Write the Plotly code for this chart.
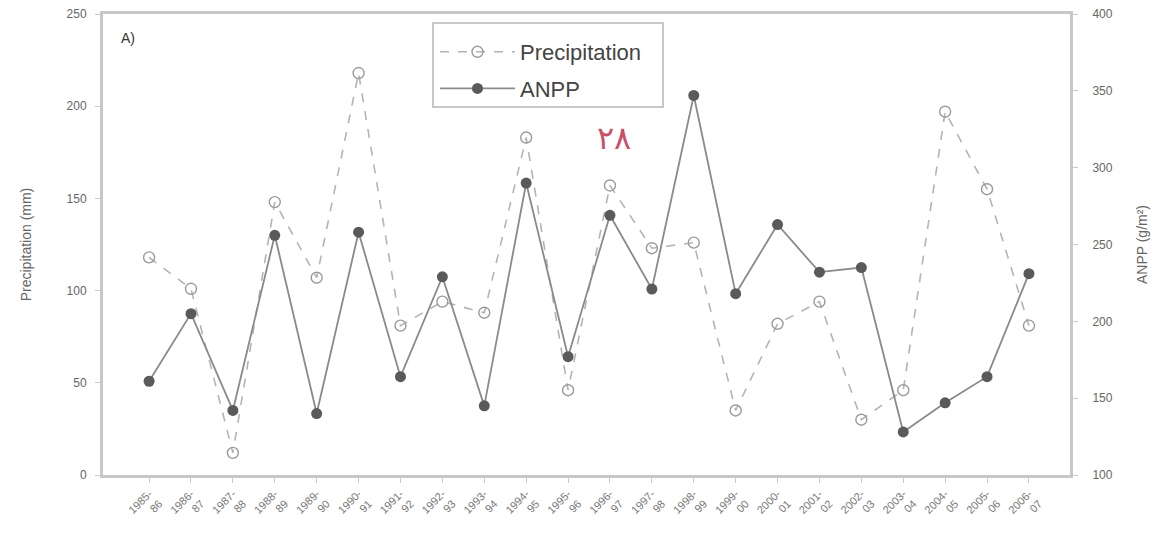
import plotly.graph_objects as go

seasons = ["1985-<br>86", "1986-<br>87", "1987-<br>88", "1988-<br>89", "1989-<br>90", "1990-<br>91",
           "1991-<br>92", "1992-<br>93", "1993-<br>94", "1994-<br>95", "1995-<br>96", "1996-<br>97",
           "1997-<br>98", "1998-<br>99", "1999-<br>00", "2000-<br>01", "2001-<br>02", "2002-<br>03",
           "2003-<br>04", "2004-<br>05", "2005-<br>06", "2006-<br>07"]
precipitation = [118, 101, 12, 148, 107, 218, 81, 94, 88, 183, 46, 157,
                 123, 126, 35, 82, 94, 30, 46, 197, 155, 81]
anpp = [161, 205, 142, 256, 140, 258, 164, 229, 145, 290, 177, 269,
        221, 347, 218, 263, 232, 235, 128, 147, 164, 231]
left_ticks = [0, 50, 100, 150, 200, 250]
right_ticks = [100, 150, 200, 250, 300, 350, 400]

xs = list(range(len(seasons)))
axis_grey = "#c8c8c8"
text_grey = "#555555"

# the page body has an 8px margin, so the layout is offset to compensate
PL, PT, PW, PH = 95, 6, 967, 461


def px(xp):  # screen x pixel -> paper
    return (xp - 101) / PW


def py(yp):  # screen y pixel -> paper
    return (475 - yp) / PH


fig = go.Figure()
fig.add_trace(go.Scatter(
    x=xs, y=precipitation, name="Precipitation", mode="lines+markers", legendgroup="p",
    line=dict(color="#b4b4b4", width=1.6, dash="dash"),
    marker=dict(symbol="circle-open", size=11, color="#9a9a9a", line=dict(width=1.4)),
))
fig.add_trace(go.Scatter(
    x=xs, y=anpp, name="ANPP", mode="lines+markers", yaxis="y2", legendgroup="a",
    line=dict(color="#8a8a8a", width=1.8),
    marker=dict(symbol="circle", size=11, color="#5a5a5a", line=dict(color="#5a5a5a", width=0)),
))

fig.update_layout(
    width=1161, height=538,
    margin=dict(l=PL, r=1161 - PL - PW, t=PT, b=538 - PT - PH, autoexpand=False),
    paper_bgcolor="white", plot_bgcolor="white",
    font=dict(family="Liberation Sans, Arial, sans-serif", color=text_grey, size=11),
    showlegend=True,
    legend=dict(x=px(433), y=py(31), xanchor="left", yanchor="top",
                borderwidth=0, bgcolor="rgba(0,0,0,0)",
                font=dict(size=22, color="#444444"), itemwidth=75,
                tracegroupgap=5, traceorder="grouped"),
    xaxis=dict(range=[-1.1, 21.98], tickmode="array", tickvals=xs, ticktext=seasons,
               tickangle=-45, showgrid=False, zeroline=False, automargin=False,
               showline=True, linecolor=axis_grey, linewidth=3, mirror=True,
               ticks="outside", ticklen=5, tickcolor=axis_grey, ticklabeloverflow="allow",
               tickfont=dict(size=11, color="#777777")),
    yaxis=dict(range=[0, 250], tickvals=left_ticks, showgrid=False, zeroline=False, automargin=False,
               showline=True, linecolor=axis_grey, linewidth=3, mirror=False,
               ticks="outside", ticklen=5, tickcolor=axis_grey, ticklabelstandoff=6,
               ticklabeloverflow="allow",
               title=dict(text="Precipitation (mm)", font=dict(size=14, color="#666666"), standoff=32),
               tickfont=dict(size=12, color="#666666")),
    yaxis2=dict(range=[100, 400], tickvals=right_ticks, overlaying="y", side="right",
                showgrid=False, zeroline=False, showline=True, linecolor=axis_grey, linewidth=3,
                ticks="outside", ticklen=5, tickcolor=axis_grey, ticklabelstandoff=12, automargin=False,
                ticklabeloverflow="allow",
                title=dict(text="ANPP (g/m²)", font=dict(size=14, color="#666666"), standoff=26),
                tickfont=dict(size=12, color="#666666")),
)

# legend frame
fig.add_shape(type="rect", xref="paper", yref="paper",
              x0=px(431), x1=px(661), y0=py(107), y1=py(23),
              fillcolor="white", line=dict(color="#c8c8c8", width=2), layer="above")

fig.add_annotation(x=px(126), y=py(38), xref="paper", yref="paper", text="A)", showarrow=False,
                   font=dict(size=14, color="#333333"), xanchor="center", yanchor="middle")
fig.add_annotation(x=px(612), y=py(138), xref="paper", yref="paper",
                   text="۲۸", showarrow=False, font=dict(size=32, color="#c8506a"),
                   xanchor="center", yanchor="middle")

fig.write_html("out.html")
